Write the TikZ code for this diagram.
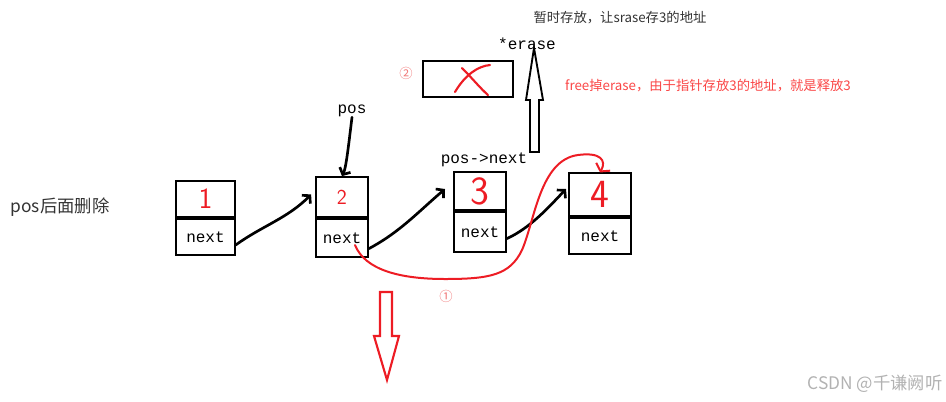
\documentclass[tikz,border=0pt]{standalone}
\usepackage{xcolor}
\usepackage{fontspec}
\setmonofont{Liberation Mono}
\newfontfamily\cjk{Noto Sans CJK SC}
\usepackage{tikz}
\usetikzlibrary{arrows.meta}
\definecolor{penred}{RGB}{237,28,36}
\definecolor{notered}{RGB}{250,70,70}
\definecolor{circred}{RGB}{240,120,120}

\begin{document}
\begin{tikzpicture}[x=0.75pt, y=-0.75pt,
  cell/.style={draw, line width=1.4pt, inner sep=0pt},
  val/.style={cell, anchor=south, text=penred},
  nxt/.style={cell, anchor=north, font=\ttfamily\fontsize{12}{12}\selectfont, text depth=-3pt},
  code/.style={font=\ttfamily\fontsize{12}{12}\selectfont, inner sep=0pt},
  link/.style={line width=2pt, line cap=round, -{Straight Barb[length=4pt, width=9pt]}},
  redlink/.style={penred, line width=1.5pt, line cap=round, -{Straight Barb[length=4pt, width=12pt]}}]
    \useasboundingbox (0,0) rectangle (946,401);
    % list nodes
    \node[val, minimum width=44pt, minimum height=27pt, font=\sffamily\fontsize{22}{22}\selectfont] (n1val) at (205.5,218) {1};
    \node[nxt, minimum width=44pt, minimum height=27pt] (n1next) at (205.5,218) {next};
    \node[val, minimum width=39pt, minimum height=30pt, font=\sffamily\fontsize{16}{16}\selectfont] (n2val) at (342,218) {2};
    \node[nxt, minimum width=39pt, minimum height=28.5pt] (n2next) at (342,218) {next};
    \node[val, minimum width=39pt, minimum height=28.5pt, font=\sffamily\fontsize{30}{30}\selectfont] (n3val) at (480,211) {3};
    \node[nxt, minimum width=39pt, minimum height=30pt] (n3next) at (480,211) {next};
    \node[val, minimum width=46.5pt, minimum height=32pt, font=\sffamily\fontsize{30}{30}\selectfont] (n4val) at (600,217) {4};
    \node[nxt, minimum width=46.5pt, minimum height=27pt] (n4next) at (600,217) {next};
    \node[cell, minimum width=67.5pt, minimum height=27pt] (erasebox) at (468,79) {};

    % labels
    \node[font=\cjk\fontsize{13}{13}\selectfont, text=black!80] (title) at (60,207) {pos后面删除};
    \node[code] (pos) at (352,111) {pos};
    \node[code] (posnext) at (484,160) {pos->next};
    \node[code] (erase) at (527,44) {*erase};
    \node[font=\cjk\fontsize{10}{10}\selectfont, text=black!80] (keep) at (620,18) {暂时存放，让srase存3的地址};
    \node[font=\cjk\fontsize{10}{10}\selectfont, text=notered] (free) at (708,86) {free掉erase，由于指针存放3的地址，就是释放3};
    \node[font=\cjk\fontsize{10}{10}\selectfont, text=circred] (stepone) at (446,296) {①};
    \node[font=\cjk\fontsize{10}{10}\selectfont, text=circred] (steptwo) at (406,73) {②};
    \node[font=\cjk\fontsize{13}{13}\selectfont, text=black!30] (mark) at (875,384) {CSDN @千谦阙听};
    \coordinate (cut) at (355,245);

    % next pointers
    \draw[link] ([yshift=-6pt]n1next.east) .. controls (262,226) and (288,218) .. ([xshift=-3pt,yshift=2pt]n2val.west);
    \draw[link] ([yshift=-8pt]n2next.east) .. controls (400,232) and (418,212) .. (445,189);
    \draw[link] ([yshift=-5pt]n3next.east) .. controls (530,228) and (548,208) .. (566,189);
    \draw[link] (pos.south) .. controls (348,150) and (346,168) .. (n2val.north);
    % relink 2 -> 4
    \draw[redlink] (cut) .. controls (365,270) and (400,279) .. (445,279)
                         .. controls (490,279) and (510,275) .. (522,250)
                         .. controls (535,220) and (540,160) .. (578,155)
                         .. controls (600,152) and (607,160) .. (n4val.north);
    % big arrows
    \draw[line width=1.4pt, line join=miter] (530,152) -- (530,100) -- (526,100) -- (534,48) -- (543,100) -- (539,100) -- (539,152) -- cycle;
    \draw[penred, line width=1.6pt, line join=miter] (380,292) -- (392,292) -- (392,336) -- (399,336) -- (387,380) -- (374,336) -- (380,336) -- cycle;
    % cross in freed box
    \draw[penred, line width=1.6pt, line cap=round] (455,92) .. controls (465,75) and (478,66) .. (490,65);
    \draw[penred, line width=1.6pt, line cap=round] (462,68) .. controls (472,78) and (480,88) .. (488,95);
\end{tikzpicture}
\end{document}
